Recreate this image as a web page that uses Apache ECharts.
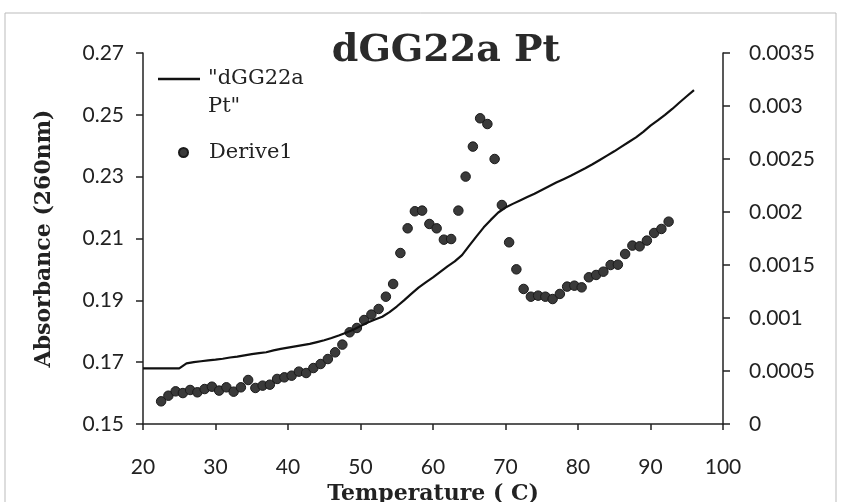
<!DOCTYPE html>
<html>
<head>
<meta charset="utf-8">
<script src="https://cdn.jsdelivr.net/npm/echarts@6/dist/echarts.min.js"></script>
<style>
html,body{margin:0;padding:0;background:#fff;}
#chart{width:841px;height:502px;}
</style>
</head>
<body>
<div id="chart"></div>
<script>
// Absorbance curve (left axis)
const lineTemps = [20,21,22,23,24,25,26,27,28,29,30,31,32,33,34,35,36,37,38,39,40,41,42,43,44,45,46,47,48,49,50,51,52,53,54,55,56,57,58,59,60,61,62,63,64,65,66,67,68,69,70,71,72,73,74,75,76,77,78,79,80,81,82,83,84,85,86,87,88,89,90,91,92,93,94,95,96];
const absorbance = [0.168,0.168,0.168,0.168,0.168,0.168,0.1696,0.1700,0.1703,0.1706,0.1708,0.1711,0.1715,0.1718,0.1722,0.1726,0.1729,0.1732,0.1738,0.1743,0.1747,0.1751,0.1755,0.1759,0.1765,0.1771,0.1778,0.1786,0.1795,0.1805,0.1817,0.1828,0.1838,0.1847,0.1862,0.1880,0.1900,0.1921,0.1941,0.1958,0.1974,0.1992,0.2010,0.2026,0.2046,0.2077,0.2107,0.2136,0.2161,0.2184,0.2200,0.2212,0.2223,0.2234,0.2245,0.2257,0.2269,0.2281,0.2292,0.2303,0.2315,0.2327,0.2340,0.2354,0.2368,0.2382,0.2397,0.2412,0.2427,0.2445,0.2465,0.2482,0.2500,0.2519,0.2540,0.2560,0.2580];
// First derivative (right axis)
const deriveTemps = [22.5,23.5,24.5,25.5,26.5,27.5,28.5,29.5,30.5,31.5,32.5,33.5,34.5,35.5,36.5,37.5,38.5,39.5,40.5,41.5,42.5,43.5,44.5,45.5,46.5,47.5,48.5,49.5,50.5,51.5,52.5,53.5,54.5,55.5,56.5,57.5,58.5,59.5,60.5,61.5,62.5,63.5,64.5,65.5,66.5,67.5,68.5,69.5,70.5,71.5,72.5,73.5,74.5,75.5,76.5,77.5,78.5,79.5,80.5,81.5,82.5,83.5,84.5,85.5,86.5,87.5,88.5,89.5,90.5,91.5,92.5];
const derive1 = [0.000214,0.000267,0.000308,0.000292,0.000321,0.000299,0.00033,0.000352,0.000315,0.000346,0.000305,0.000346,0.000415,0.00034,0.000362,0.000371,0.000425,0.00044,0.000456,0.000494,0.000481,0.000528,0.000566,0.000613,0.000676,0.000749,0.000865,0.000906,0.000981,0.001032,0.001085,0.001201,0.001321,0.001613,0.001846,0.002007,0.002013,0.001887,0.001846,0.001739,0.001745,0.002013,0.002334,0.002617,0.002884,0.00283,0.0025,0.002066,0.001714,0.001459,0.001274,0.001201,0.001211,0.001201,0.001179,0.001227,0.001296,0.001305,0.001289,0.001384,0.001406,0.001437,0.0015,0.001503,0.001604,0.001683,0.001676,0.00173,0.001802,0.00184,0.001909];
const chartTitle = 'dGG22a Pt';
const lineName = '"dGG22a Pt"';
const lineLegendText = '\n"dGG22a\nPt"';
const dotName = 'Derive1';
const xName = 'Temperature ( C)';
const yName = 'Absorbance (260nm)';

const serif = '"DejaVu Serif", "Liberation Serif", serif';
const sans = 'Lato, "Open Sans", sans-serif';

const chart = echarts.init(document.getElementById('chart'), null, {renderer: 'canvas'});
const axisLine = {show: true, onZero: false, lineStyle: {color: '#222', width: 1.5}};
chart.setOption({
  animation: false,
  backgroundColor: '#fff',
  title: {
    text: chartTitle, left: 441, textAlign: 'center', top: 27,
    textStyle: {fontFamily: serif, fontWeight: 'bold', fontSize: 38, color: '#2a2a2a'}
  },
  graphic: [{
    type: 'polyline', shape: {points: [[5, 502], [5, 13], [836, 13], [836, 502]]},
    style: {fill: 'none', stroke: '#bbb', lineWidth: 1}, silent: true
  }],
  legend: [{
    data: [{name: lineName, icon: 'rect'}], left: 158, top: 37, orient: 'vertical', padding: 0,
    itemWidth: 42, itemHeight: 2.5, itemStyle: {color: '#111', borderWidth: 0},
    formatter: () => lineLegendText,
    textStyle: {fontFamily: serif, fontSize: 21, color: '#222', lineHeight: 28, padding: [0, 0, 0, 3]}
  }, {
    data: [dotName], left: 178, top: 142, orient: 'vertical', padding: 0,
    itemWidth: 9, itemHeight: 9,
    textStyle: {fontFamily: serif, fontSize: 21, color: '#222', padding: [0, 0, 0, 16]}
  }],
  grid: {left: 143, right: 118, top: 53, bottom: 78, containLabel: false, outerBoundsMode: 'none'},
  xAxis: {
    type: 'value', min: 20, max: 100, interval: 10,
    name: xName, nameLocation: 'middle', nameGap: 49,
    nameTextStyle: {fontFamily: serif, fontWeight: 'bold', fontSize: 22, color: '#222'},
    axisLine: axisLine,
    axisTick: {show: true, inside: false, length: 6, lineStyle: {color: '#222', width: 1.5}},
    axisLabel: {fontFamily: sans, fontSize: 21, color: '#222', margin: 33},
    splitLine: {show: false}
  },
  yAxis: [{
    type: 'value', min: 0.15, max: 0.27, interval: 0.02, position: 'left',
    name: yName, nameLocation: 'middle', nameGap: 88, nameRotate: 90,
    nameTextStyle: {fontFamily: serif, fontWeight: 'bold', fontSize: 22, color: '#222'},
    axisLine: axisLine,
    axisTick: {show: true, inside: false, length: 7, lineStyle: {color: '#222', width: 1.5}},
    axisLabel: {fontFamily: sans, fontSize: 21, color: '#222', margin: 19, formatter: v => v.toFixed(2)},
    splitLine: {show: false}
  }, {
    type: 'value', min: 0, max: 0.0035, interval: 0.0005, position: 'right',
    axisLine: axisLine,
    axisTick: {show: true, inside: false, length: 7, lineStyle: {color: '#222', width: 1.5}},
    axisLabel: {fontFamily: sans, fontSize: 21, color: '#222', margin: 26, formatter: v => String(+v.toFixed(4))},
    splitLine: {show: false}
  }],
  series: [{
    name: lineName, type: 'line', yAxisIndex: 0, symbol: 'none', smooth: false,
    data: lineTemps.map((t, i) => [t, absorbance[i]]),
    lineStyle: {color: '#111', width: 2.2}, itemStyle: {color: '#111'}
  }, {
    name: dotName, type: 'scatter', yAxisIndex: 1, symbol: 'circle', symbolSize: 9.5,
    data: deriveTemps.map((t, i) => [t, derive1[i]]),
    itemStyle: {color: '#3a3a3a', borderColor: '#1a1a1a', borderWidth: 1, opacity: 1}
  }]
});
</script>
</body>
</html>
